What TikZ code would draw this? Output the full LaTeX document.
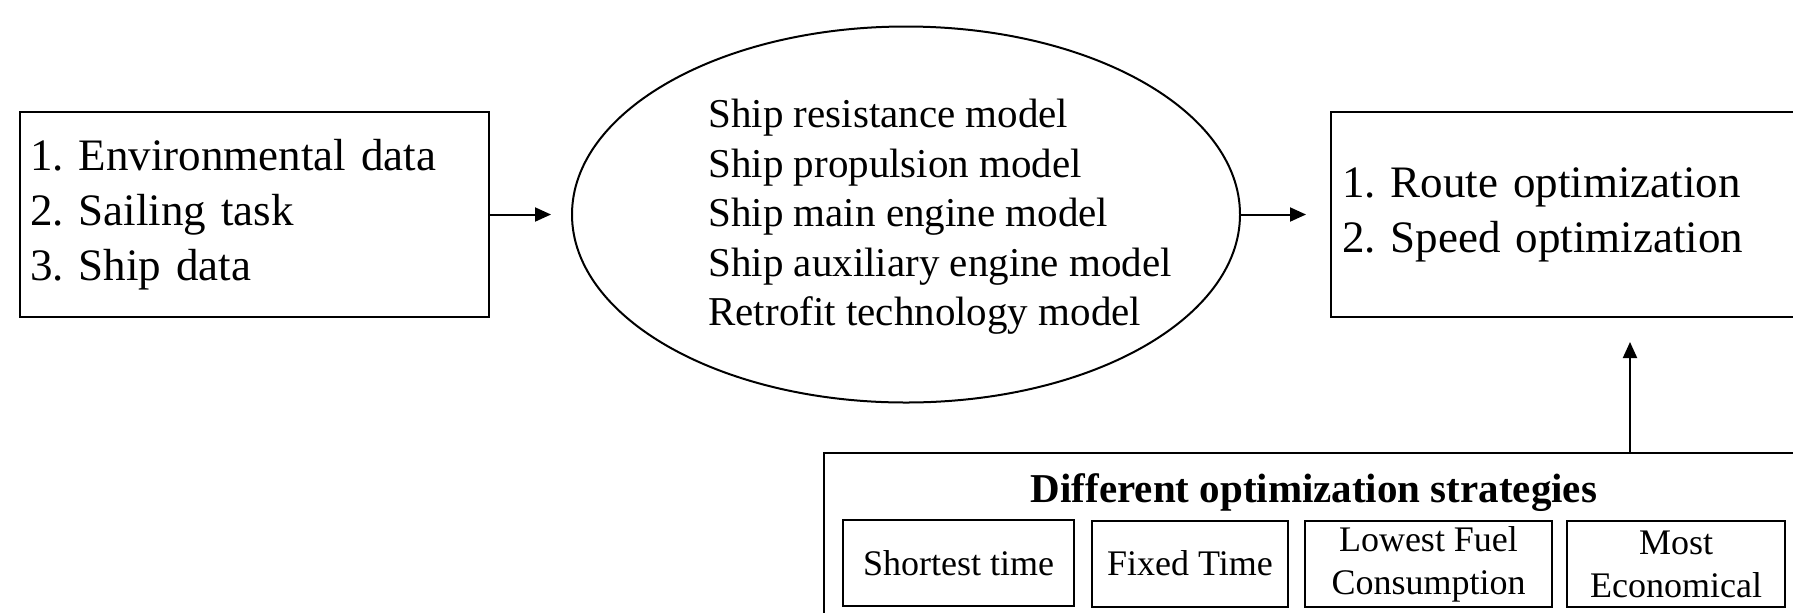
\documentclass[tikz,border=0pt]{standalone}
\usepackage{fontspec}
\setmainfont{Liberation Serif}
\usetikzlibrary{arrows.meta,shapes.geometric}
\frenchspacing

\begin{document}
\begin{tikzpicture}[x=0.5pt, y=-0.5pt, >={Triangle[length=8pt,width=7pt]},
  box/.style={shape=rectangle, draw=black, line width=1pt, align=left, minimum height=102.5pt, font=\fontsize{22.5}{27.5}\selectfont},
  stratbox/.style={shape=rectangle, draw=black, line width=1pt, minimum height=43pt, inner sep=0pt, align=center, font=\fontsize{18}{21.5}\selectfont}]
\useasboundingbox (0,0) rectangle (1793,612);
\clip (0,0) rectangle (1793,612);
\node[box, text width=224.5pt, inner xsep=5pt] (inputs) at (254.5, 214.5) {1. Environmental data\\2. Sailing task\\3. Ship data};
\node[shape=ellipse, draw=black, line width=1pt, minimum width=334pt, minimum height=188pt, inner sep=0pt] (models) at (906, 214.5) {};
\node[anchor=west, inner sep=0pt, align=left, font=\fontsize{20.5}{24.75}\selectfont] (modellist) at (708, 217) {Ship resistance model\\Ship propulsion model\\Ship main engine model\\Ship auxiliary engine model\\Retrofit technology model};
\node[box, text width=288pt, inner xsep=5.5pt] (routes) at (1630, 214.5) {1. Route optimization\\2. Speed optimization};
\node[shape=rectangle, draw=black, line width=1pt, minimum width=490pt, minimum height=86pt] (strategies) at (1314, 539) {};
\node[anchor=base, font=\fontsize{20.5}{24}\selectfont\bfseries] (strattitle) at (1314, 502) {Different optimization strategies};
\node[stratbox, minimum width=115.5pt] (shortest) at (958.5, 563) {Shortest time};
\node[stratbox, minimum width=98pt] (fixed) at (1190, 563.5) {Fixed Time};
\node[stratbox, minimum width=123.5pt] (lowest) at (1428.5, 564) {Lowest Fuel\\Consumption};
\node[stratbox, minimum width=109pt] (economical) at (1676, 564) {Most\\Economical};
\coordinate (stratin) at (routes.south |- strategies.north);
\path [->, line width=1pt, draw=black, shorten >=10pt] (inputs) edge (models);
\path [->, line width=1pt, draw=black, shorten >=12pt] (models) edge (routes);
\draw [->, line width=1pt, shorten >=12pt] (stratin) -- (routes);
\end{tikzpicture}
\end{document}
